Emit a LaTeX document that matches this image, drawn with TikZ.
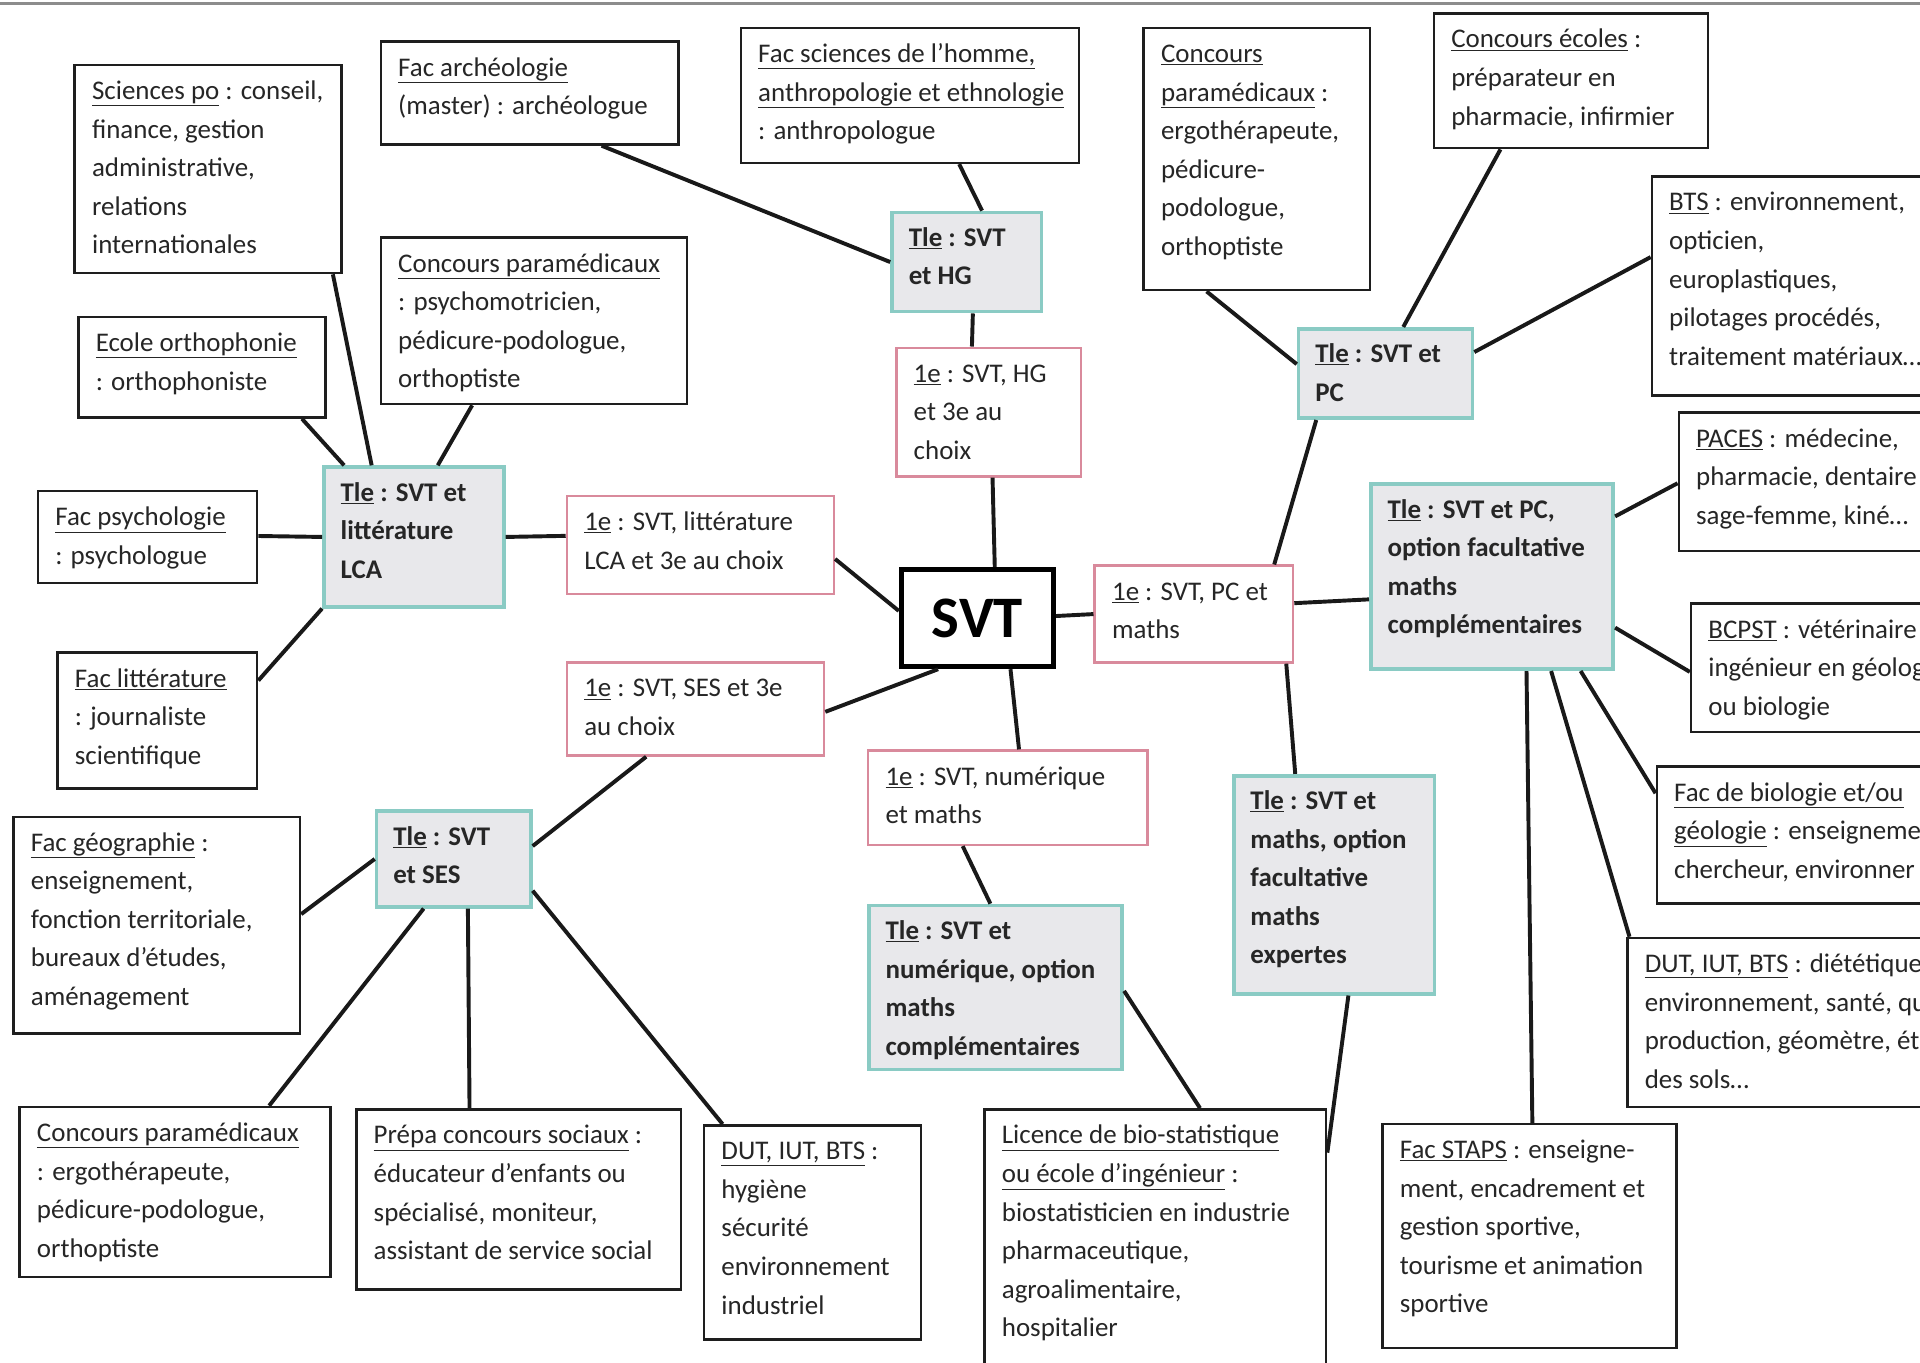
\documentclass[tikz,border=0pt]{standalone}
\usepackage{fontspec}
\setmainfont{Carlito}
\usetikzlibrary{calc}
\definecolor{tealb}{HTML}{8ACBC4}
\definecolor{tlefill}{HTML}{E8E8EB}
\definecolor{pinkb}{HTML}{D98A9C}
\definecolor{boxb}{HTML}{1E1E1E}
\definecolor{topline}{HTML}{8C8C8C}
\tikzset{
 wb/.style={draw=boxb, line width=2pt, fill=white},
 tb/.style={draw=tealb, line width=3pt, fill=tlefill},
 pb/.style={draw=pinkb, line width=2pt, fill=white},
 wb-txt/.style={inner sep=0pt, align=left, font=\fontsize{22}{31.5}\selectfont, text=black!85},
 tb-txt/.style={inner sep=0pt, align=left, font=\fontsize{22}{31.5}\selectfont\bfseries, text=black!85},
 pb-txt/.style={wb-txt},
 conn/.style={line width=3.2pt, draw=black!90},
}
\newcommand\mybox[7]{%
  \node[#1, anchor=north west, minimum width={(#5-#3)*1pt}, minimum height={(#6-#4)*1pt}, inner sep=0pt] (#2) at (#3,#4) {};
  \node[#1-txt, anchor=north west] (#2-t) at ($(#2.north west)+(15,13)$) {\rule{0pt}{16pt}#7};
}
\begin{document}
\begin{tikzpicture}[x=1pt,y=-1pt]
\useasboundingbox[fill=white] (0,0) rectangle (1568,1113);
\draw[topline, line width=2pt] (0,3) -- (1568,3);

\mybox{wb}{sp}{60}{52}{278}{222}{\underline{Sciences po} : conseil,\\finance, gestion\\administrative,\\relations\\internationales}
\mybox{wb}{arch}{310}{33}{553}{117}{\underline{Fac archéologie}\\(master) : archéologue}
\mybox{wb}{homme}{604}{22}{880}{132}{\underline{Fac sciences de l’homme,}\\\underline{anthropologie et ethnologie}\\: anthropologue}
\mybox{wb}{cpR}{933}{22}{1118}{236}{\underline{Concours}\\\underline{paramédicaux} :\\ergothérapeute,\\pédicure-\\podologue,\\orthoptiste}
\mybox{wb}{ecol}{1170}{10}{1394}{120}{\underline{Concours écoles} :\\préparateur en\\pharmacie, infirmier}
\mybox{wb}{bts}{1348}{143}{1600}{322}{\underline{BTS} : environnement,\\opticien,\\europlastiques,\\pilotages procédés,\\traitement matériaux…}
\mybox{wb}{paces}{1370}{336}{1600}{449}{\underline{PACES} : médecine,\\pharmacie, dentaire\\sage-femme, kiné…}
\mybox{wb}{bcpst}{1380}{492}{1600}{597}{\underline{BCPST} : vétérinaire\\ingénieur en géolog\\ou biologie}
\mybox{wb}{bio}{1352}{625}{1600}{737}{\underline{Fac de biologie et/ou}\\\underline{géologie} : enseigneme\\chercheur, environner}
\mybox{wb}{dutR}{1328}{765}{1600}{903}{\underline{DUT, IUT, BTS} : diététique\\environnement, santé, qu\\production, géomètre, ét\\des sols…}
\mybox{wb}{staps}{1128}{917}{1368}{1100}{\underline{Fac STAPS} : enseigne-\\ment, encadrement et\\gestion sportive,\\tourisme et animation\\sportive}
\mybox{wb}{lic}{803}{905}{1082}{1130}{\underline{Licence de bio-statistique}\\\underline{ou école d’ingénieur} :\\biostatisticien en industrie\\pharmaceutique,\\agroalimentaire,\\hospitalier}
\mybox{wb}{dutB}{574}{918}{751}{1093}{\underline{DUT, IUT, BTS} :\\hygiène\\sécurité\\environnement\\industriel}
\mybox{wb}{prepa}{290}{905}{555}{1052}{\underline{Prépa concours sociaux} :\\éducateur d’enfants ou\\spécialisé, moniteur,\\assistant de service social}
\mybox{wb}{cpB}{15}{903}{269}{1042}{\underline{Concours paramédicaux}\\: ergothérapeute,\\pédicure-podologue,\\orthoptiste}
\mybox{wb}{geo}{10}{666}{244}{843}{\underline{Fac géographie} :\\enseignement,\\fonction territoriale,\\bureaux d’études,\\aménagement}
\mybox{wb}{litt}{46}{532}{209}{643}{\underline{Fac littérature}\\: journaliste\\scientifique}
\mybox{wb}{psy}{30}{400}{209}{475}{\underline{Fac psychologie}\\: psychologue}
\mybox{wb}{orth}{63}{258}{265}{340}{\underline{Ecole orthophonie}\\: orthophoniste}
\mybox{wb}{cpL}{310}{193}{560}{329}{\underline{Concours paramédicaux}\\: psychomotricien,\\pédicure-podologue,\\orthoptiste}
\mybox{tb}{tLCA}{263}{380}{410}{494}{\underline{Tle} : SVT et\\littérature\\LCA}
\mybox{pb}{pLCA}{462}{404}{680}{484}{\underline{1e} : SVT, littérature\\LCA et 3e au choix}
\mybox{tb}{tHG}{727}{172}{849}{253}{\underline{Tle} : SVT\\et HG}
\mybox{pb}{pHG}{731}{283}{882}{388}{\underline{1e} : SVT, HG\\et 3e au\\choix}
\mybox{pb}{pPC}{893}{461}{1055}{540}{\underline{1e} : SVT, PC et\\maths}
\mybox{tb}{tPC}{1059}{267}{1201}{340}{\underline{Tle} : SVT et\\PC}
\mybox{tb}{tPCo}{1118}{394}{1316}{545}{\underline{Tle} : SVT et PC,\\option facultative\\maths\\complémentaires}
\mybox{pb}{pSES}{462}{540}{672}{616}{\underline{1e} : SVT, SES et 3e\\au choix}
\mybox{tb}{tSES}{306}{661}{432}{739}{\underline{Tle} : SVT\\et SES}
\mybox{pb}{pNum}{708}{612}{936}{689}{\underline{1e} : SVT, numérique\\et maths}
\mybox{tb}{tNum}{708}{738}{915}{872}{\underline{Tle} : SVT et\\numérique, option\\maths\\complémentaires}
\mybox{tb}{tMath}{1006}{632}{1170}{810}{\underline{Tle} : SVT et\\maths, option\\facultative\\maths\\expertes}

\node[draw=black, line width=4.5pt, fill=white, anchor=north west, minimum width=124pt, minimum height=79pt, inner sep=0pt, font=\fontsize{48}{50}\selectfont\bfseries] (svt) at (734,463) {SVT};

\draw[conn] ($(sp.south west)!0.963!(sp.south east)$) -- ($(tLCA.north west)!0.27!(tLCA.north east)$);
\draw[conn] ($(orth.south west)!0.90!(orth.south east)$) -- ($(tLCA.north west)!0.12!(tLCA.north east)$);
\draw[conn] ($(cpL.south west)!0.30!(cpL.south east)$) -- ($(tLCA.north west)!0.63!(tLCA.north east)$);
\draw[conn] ($(psy.north east)!0.49!(psy.south east)$) -- ($(tLCA.north west)!0.5!(tLCA.south west)$);
\draw[conn] ($(litt.north east)!0.21!(litt.south east)$) -- (tLCA.south west);
\draw[conn] (tLCA.east) -- ($(pLCA.north west)!0.41!(pLCA.south west)$);
\draw[conn] ($(pLCA.north east)!0.64!(pLCA.south east)$) -- ($(svt.north west)!0.43!(svt.south west)$);
\draw[conn] ($(arch.south west)!0.74!(arch.south east)$) -- (tHG.west);
\draw[conn] ($(homme.south west)!0.645!(homme.south east)$) -- ($(tHG.north west)!0.6!(tHG.north east)$);
\draw[conn] ($(tHG.south west)!0.54!(tHG.south east)$) -- ($(pHG.north west)!0.41!(pHG.north east)$);
\draw[conn] ($(pHG.south west)!0.52!(pHG.south east)$) -- ($(svt.north west)!0.61!(svt.north east)$);
\draw[conn] ($(cpR.south west)!0.28!(cpR.south east)$) -- ($(tPC.north west)!0.4!(tPC.south west)$);
\draw[conn] ($(ecol.south west)!0.245!(ecol.south east)$) -- ($(tPC.north west)!0.6!(tPC.north east)$);
\draw[conn] ($(bts.north west)!0.37!(bts.south west)$) -- ($(tPC.north east)!0.27!(tPC.south east)$);
\draw[conn] ($(tPC.south west)!0.11!(tPC.south east)$) -- ($(pPC.north west)!0.9!(pPC.north east)$);
\draw[conn] ($(svt.north east)!0.48!(svt.south east)$) -- ($(pPC.north west)!0.5!(pPC.south west)$);
\draw[conn] ($(pPC.north east)!0.39!(pPC.south east)$) -- ($(tPCo.north west)!0.62!(tPCo.south west)$);
\draw[conn] ($(paces.north west)!0.51!(paces.south west)$) -- ($(tPCo.north east)!0.18!(tPCo.south east)$);
\draw[conn] ($(bcpst.north west)!0.53!(bcpst.south west)$) -- ($(tPCo.north east)!0.77!(tPCo.south east)$);
\draw[conn] ($(tPCo.south west)!0.86!(tPCo.south east)$) -- ($(bio.north west)!0.2!(bio.south west)$);
\draw[conn] ($(tPCo.south west)!0.74!(tPCo.south east)$) -- ($(dutR.north west)!0.01!(dutR.north east)$);
\draw[conn] ($(tPCo.south west)!0.64!(tPCo.south east)$) -- ($(staps.north west)!0.51!(staps.north east)$);
\draw[conn] ($(pPC.south west)!0.96!(pPC.south east)$) -- ($(tMath.north west)!0.31!(tMath.north east)$);
\draw[conn] ($(tMath.south west)!0.57!(tMath.south east)$) -- ($(lic.north east)!0.16!(lic.south east)$);
\draw[conn] ($(tNum.north east)!0.52!(tNum.south east)$) -- ($(lic.north west)!0.63!(lic.north east)$);
\draw[conn] ($(pNum.south west)!0.34!(pNum.south east)$) -- ($(tNum.north west)!0.48!(tNum.north east)$);
\draw[conn] ($(svt.south west)!0.71!(svt.south east)$) -- ($(pNum.north west)!0.54!(pNum.north east)$);
\draw[conn] ($(svt.south west)!0.25!(svt.south east)$) -- ($(pSES.north east)!0.53!(pSES.south east)$);
\draw[conn] ($(pSES.south west)!0.31!(pSES.south east)$) -- ($(tSES.north east)!0.37!(tSES.south east)$);
\draw[conn] ($(geo.north east)!0.45!(geo.south east)$) -- (tSES.west);
\draw[conn] ($(tSES.south west)!0.31!(tSES.south east)$) -- ($(cpB.north west)!0.8!(cpB.north east)$);
\draw[conn] ($(tSES.south west)!0.59!(tSES.south east)$) -- ($(prepa.north west)!0.35!(prepa.north east)$);
\draw[conn] ($(tSES.north east)!0.82!(tSES.south east)$) -- ($(dutB.north west)!0.09!(dutB.north east)$);
\end{tikzpicture}
\end{document}
